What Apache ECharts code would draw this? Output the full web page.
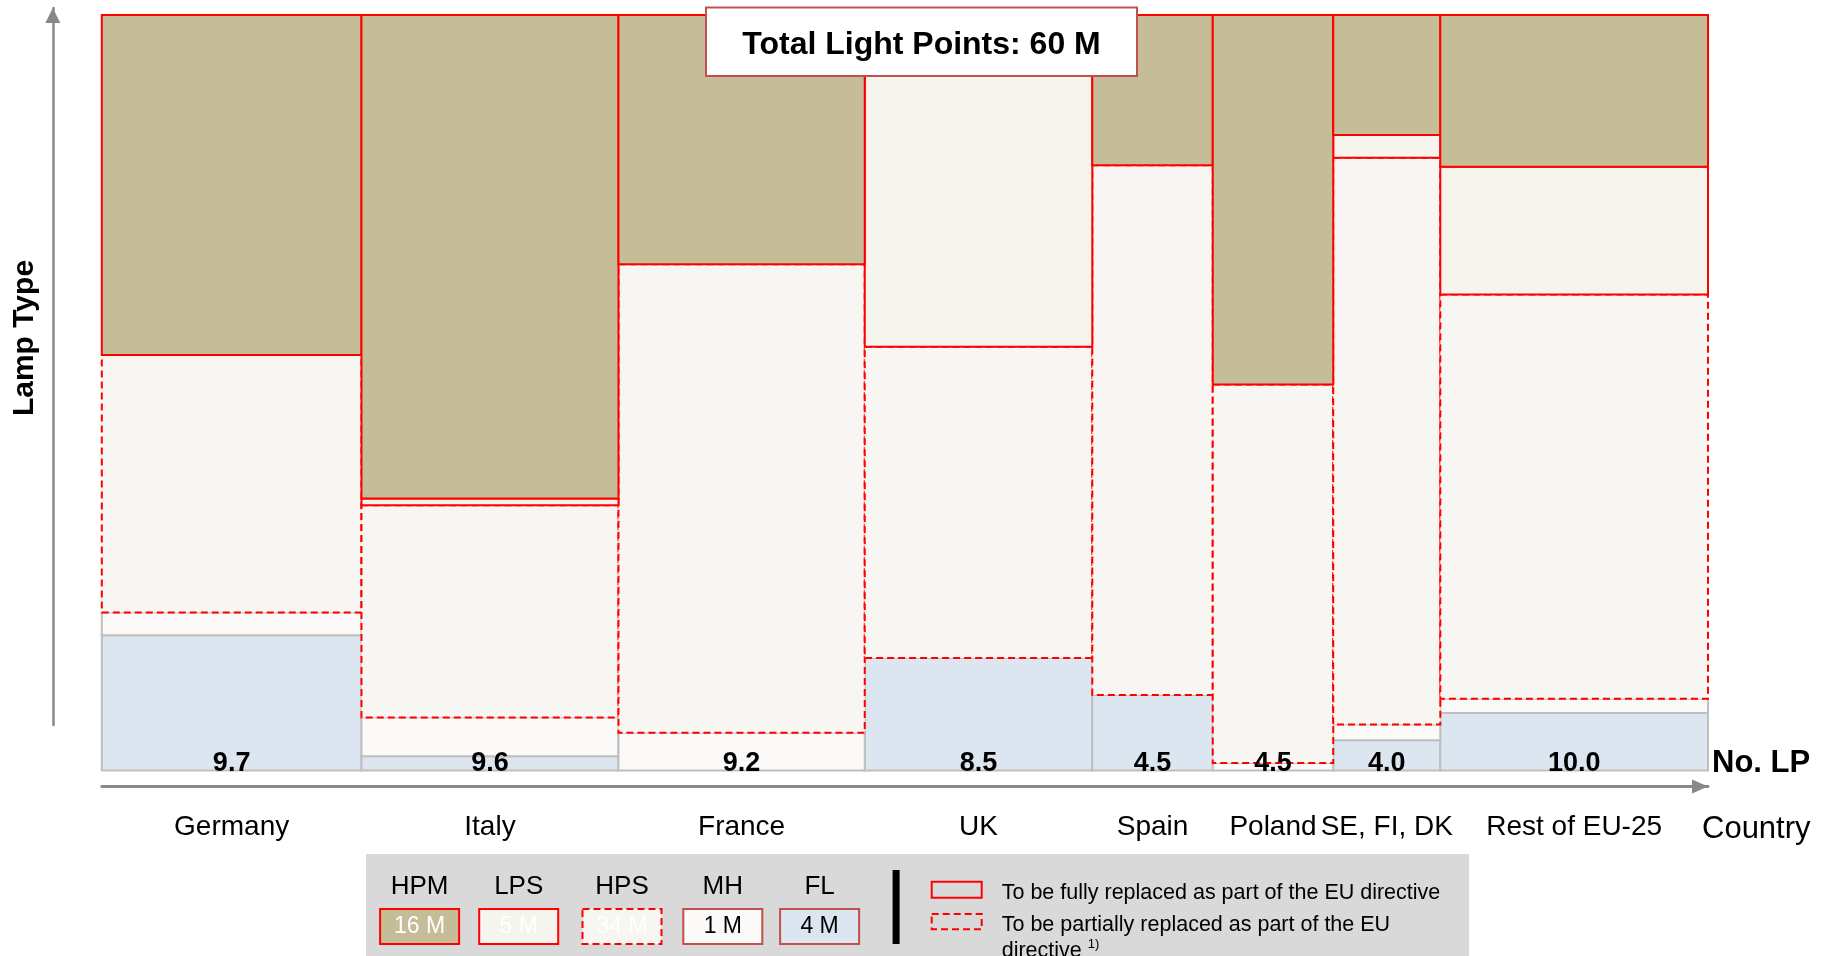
<!DOCTYPE html>
<html>
<head>
<meta charset="utf-8">
<script src="https://cdn.jsdelivr.net/npm/echarts@6/dist/echarts.min.js"></script>
<style>html,body{margin:0;padding:0;background:#fff;}#c{width:1827px;height:956px;}</style>
</head>
<body>
<div id="c"></div>
<script>
// ---- data ----
const countries = ['Germany', 'Italy', 'France', 'UK', 'Spain', 'Poland', 'SE, FI, DK', 'Rest of EU-25'];
const lightPoints = [9.7, 9.6, 9.2, 8.5, 4.5, 4.5, 4.0, 10.0];           // No. LP (M) -> column widths
// share of each lamp type within a column (%), stacked from top
const hpm = [45.0, 64.0, 33.0, 0.0, 19.9, 48.9, 15.9, 20.1];
const lps = [0.0, 0.9, 0.0, 43.9, 0.0, 0.0, 3.0, 16.9];
const hps = [34.1, 28.1, 62.0, 41.2, 70.1, 50.1, 75.0, 53.5];
const mh  = [3.0, 5.1, 5.0, 0.0, 0.0, 1.0, 2.1, 1.9];
const fl  = [17.9, 1.9, 0.0, 14.9, 10.0, 0.0, 4.0, 7.6];
const lampTypes = ['HPM', 'LPS', 'HPS', 'MH', 'FL'];
const lampTotals = ['16 M', '5 M', '34 M', '1 M', '4 M'];
const totalLabel = 'Total Light Points: 60 M';

// ---- styles ----
const FONT = '"Liberation Sans", Arial, sans-serif';
const RED = '#ff0000';
const typeStyle = {
  HPM: {fill: '#c5bd98', stroke: RED, dash: null},
  LPS: {fill: '#f5f4ed', stroke: RED, dash: null},
  HPS: {fill: '#f7f6f2', stroke: RED, dash: [7, 4]},
  MH:  {fill: '#fbfaf8', stroke: '#bfbfbf', dash: null},
  FL:  {fill: '#dce6f1', stroke: '#bfbfbf', dash: null}
};
const swatchStroke = {HPM: RED, LPS: RED, HPS: RED, MH: '#c0504d', FL: '#c0504d'};
const swatchText = {HPM: '#ffffff', LPS: '#ffffff', HPS: '#ffffff', MH: '#000000', FL: '#000000'};

// ---- build segments ----
const shares = {HPM: hpm, LPS: lps, HPS: hps, MH: mh, FL: fl};
const starts = [];
let acc = 0;
lightPoints.forEach(v => { starts.push(acc); acc += v; });
const totalLP = acc;

const segData = {};
lampTypes.forEach(t => segData[t] = []);
countries.forEach((c, i) => {
  let top = 100;
  lampTypes.forEach(t => {
    const v = shares[t][i];
    if (v > 0) segData[t].push([starts[i], starts[i] + lightPoints[i], top, top - v]);
    top -= v;
  });
});

function rectSeries(t) {
  const st = typeStyle[t];
  return {
    type: 'custom', name: t, xAxisIndex: 0, yAxisIndex: 0,
    data: segData[t],
    encode: {x: [0, 1], y: [2, 3]},
    renderItem: function (params, api) {
      const p0 = api.coord([api.value(0), api.value(2)]);
      const p1 = api.coord([api.value(1), api.value(3)]);
      return {
        type: 'rect',
        shape: {x: p0[0], y: p0[1], width: p1[0] - p0[0], height: p1[1] - p0[1]},
        style: {fill: st.fill, stroke: st.stroke, lineWidth: 2, lineDash: st.dash}
      };
    },
    silent: true
  };
}

const labelData = countries.map((c, i) => [starts[i] + lightPoints[i] / 2, lightPoints[i], c]);

const series = ['FL', 'MH', 'HPS', 'LPS', 'HPM'].map(rectSeries);
series.push({
  type: 'custom', name: 'labels', xAxisIndex: 0, yAxisIndex: 0, z: 10,
  data: labelData,
  encode: {x: 0},
  renderItem: function (params, api) {
    const p = api.coord([api.value(0), 0]);
    const i = params.dataIndex;
    return {
      type: 'group',
      children: [
        {type: 'text', x: p[0], y: p[1] - 7,
          style: {text: lightPoints[i].toFixed(1), fill: '#000', align: 'center', verticalAlign: 'middle',
            font: 'bold 27px ' + FONT}},
        {type: 'text', x: p[0], y: p[1] + 57,
          style: {text: countries[i], fill: '#000', align: 'center', verticalAlign: 'middle',
            font: '28px ' + FONT}}
      ]
    };
  },
  silent: true
});

// ---- legend graphics ----
const lgX = [419.6, 518.7, 622, 722.8, 819.6];
const legendEls = [
  {type: 'rect', shape: {x: 366, y: 854, width: 1103, height: 110}, style: {fill: '#d9d9d9'}, z: 1}
];
lampTypes.forEach((t, k) => {
  legendEls.push({type: 'text', x: lgX[k], y: 887, z: 2,
    style: {text: t, fill: '#000', align: 'center', verticalAlign: 'middle', font: '26px ' + FONT}});
  legendEls.push({type: 'rect', z: 2, shape: {x: lgX[k] - 39.5, y: 909, width: 79, height: 35},
    style: {fill: typeStyle[t].fill, stroke: swatchStroke[t], lineWidth: 2, lineDash: typeStyle[t].dash}});
  legendEls.push({type: 'text', x: lgX[k], y: 927, z: 3,
    style: {text: lampTotals[k], fill: swatchText[t], align: 'center', verticalAlign: 'middle', font: '23px ' + FONT}});
});
legendEls.push({type: 'rect', z: 2, shape: {x: 892.6, y: 870, width: 7, height: 74}, style: {fill: '#000'}});
legendEls.push({type: 'rect', z: 2, shape: {x: 931.7, y: 881.7, width: 50, height: 16},
  style: {fill: 'none', stroke: RED, lineWidth: 2}});
legendEls.push({type: 'rect', z: 2, shape: {x: 931.7, y: 914, width: 50, height: 15.3},
  style: {fill: 'none', stroke: RED, lineWidth: 2, lineDash: [7, 4]}});
legendEls.push({type: 'text', x: 1001.7, y: 893, z: 2,
  style: {text: 'To be fully replaced as part of the EU directive', fill: '#000', align: 'left',
    verticalAlign: 'middle', font: '21.5px ' + FONT}});
legendEls.push({type: 'text', x: 1001.7, y: 912, z: 2,
  style: {text: 'To be partially replaced as part of the EU\ndirective {sup|1)}', fill: '#000', align: 'left',
    verticalAlign: 'top', fontSize: 21.5, fontFamily: FONT, lineHeight: 26,
    rich: {sup: {fontSize: 13, fontFamily: FONT, fill: '#000', verticalAlign: 'top', lineHeight: 26, padding: [0, 0, 10, 0]}}}});

const graphics = legendEls.concat([
  {type: 'rect', z: 20, shape: {x: 706, y: 7.5, width: 431, height: 68.5},
    style: {fill: '#fff', stroke: '#c0504d', lineWidth: 2}},
  {type: 'text', z: 21, x: 921.5, y: 45,
    style: {text: totalLabel, fill: '#000', align: 'center', verticalAlign: 'middle', font: 'bold 32px ' + FONT}},
  {type: 'text', z: 21, x: 1712, y: 763,
    style: {text: 'No. LP', fill: '#000', align: 'left', verticalAlign: 'middle', font: 'bold 31px ' + FONT}},
  {type: 'text', z: 21, x: 1702, y: 829,
    style: {text: 'Country', fill: '#000', align: 'left', verticalAlign: 'middle', font: '31px ' + FONT}},
  {type: 'text', z: 21, x: 25, y: 338, rotation: Math.PI / 2,
    style: {text: 'Lamp Type', fill: '#000', align: 'center', verticalAlign: 'middle', font: 'bold 30px ' + FONT}}
]);

const chart = echarts.init(document.getElementById('c'), null, {renderer: 'canvas'});
chart.setOption({
  animation: false,
  backgroundColor: '#fff',
  grid: [
    {left: 101.8, right: 119, top: 15, bottom: 185.5},
    {left: 52.8, width: 10, top: 8, bottom: 231}
  ],
  xAxis: [
    {type: 'value', gridIndex: 0, min: 0, max: totalLP, offset: 16, position: 'bottom',
      axisLine: {show: true, onZero: false, symbol: ['none', 'triangle'], symbolSize: [14, 16], symbolOffset: [0, -8],
        lineStyle: {color: '#888', width: 2.8}},
      axisTick: {show: false}, axisLabel: {show: false}, splitLine: {show: false}},
    {type: 'value', gridIndex: 1, show: false, min: 0, max: 1}
  ],
  yAxis: [
    {type: 'value', gridIndex: 0, min: 0, max: 100, show: false},
    {type: 'value', gridIndex: 1, min: 0, max: 1, position: 'left',
      axisLine: {show: true, onZero: false, symbol: ['none', 'triangle'], symbolSize: [15, 15], symbolOffset: [0, -7.5],
        lineStyle: {color: '#888', width: 2.5}},
      axisTick: {show: false}, axisLabel: {show: false}, splitLine: {show: false}}
  ],
  series: series,
  graphic: graphics
});
</script>
</body>
</html>
